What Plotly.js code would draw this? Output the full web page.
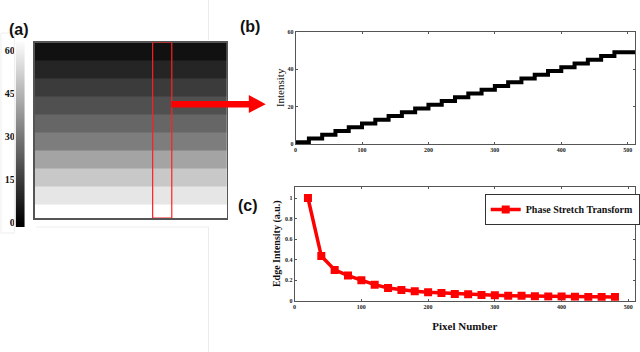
<!DOCTYPE html>
<html>
<head>
<meta charset="utf-8">
<script src="https://cdn.plot.ly/plotly-3.0.1.min.js"></script>
<style>html,body{margin:0;padding:0;background:#fff;}#chart{width:640px;height:352px;}</style>
</head>
<body>
<div id="chart"></div>
<script>
// ---- Panel (a): gray band image ----
const bandEdges = [0, 18, 36, 54, 72, 90, 108, 126, 144, 162, 175];
const bandValues = [4.3, 9.3, 14.8, 20.1, 25.6, 31.4, 41.2, 50.2, 57.7, 64];
const imageColumns = [0, 512];
const roiColumns = [314, 365];
const colorbarLevels = [0, 4, 8, 12, 16, 20, 24, 28, 32, 36, 40, 44, 48, 52, 56, 60, 64];
const colorbarTicks = [0, 15, 30, 45, 60];

// ---- Panel (b): intensity profile ----
const profileX = [0, 20, 40, 60, 80, 100, 120, 140, 160, 180, 200, 220, 240, 260, 280, 300, 320, 340, 360, 380, 400, 420, 440, 460, 480, 512];
const profileY = [1, 3, 5, 7, 9, 11, 13, 15, 17, 19, 21, 23, 25, 27, 29, 31, 33, 35, 37, 39, 41, 43, 45, 47, 49, 49];

// ---- Panel (c): edge intensity ----
const pixelNumber = [20, 40, 60, 80, 100, 120, 140, 160, 180, 200, 220, 240, 260, 280, 300, 320, 340, 360, 380, 400, 420, 440, 460, 480];
const edgeIntensity = [1.0, 0.435, 0.30, 0.245, 0.20, 0.156, 0.123, 0.104, 0.091, 0.082, 0.075, 0.066, 0.062, 0.056, 0.052, 0.049, 0.047, 0.043, 0.042, 0.040, 0.038, 0.037, 0.036, 0.035];

const grayScale = [[0, '#000000'], [1, '#ffffff']];
const serif = '"Liberation Serif", "Times New Roman", Times, serif';
const sans = '"Liberation Sans", Arial, Helvetica, sans-serif';
const tickFont = {family: serif, size: 6, color: '#222', weight: 'bold'};

const traces = [
  {
    type: 'heatmap', x: imageColumns, y: bandEdges,
    z: bandValues.map(v => [v]),
    colorscale: grayScale, zmin: 0, zmax: 64, showscale: false,
    xaxis: 'x', yaxis: 'y', hoverinfo: 'skip', showlegend: false
  },
  {
    type: 'heatmap', x: [0, 1], y: colorbarLevels,
    z: colorbarLevels.map(v => [v, v]), zsmooth: 'best',
    colorscale: grayScale, zmin: 0, zmax: 64, showscale: false,
    xaxis: 'x4', yaxis: 'y4', hoverinfo: 'skip', showlegend: false
  },
  {
    type: 'scatter', mode: 'lines', x: profileX, y: profileY,
    line: {color: '#000000', width: 4, shape: 'hv'},
    xaxis: 'x2', yaxis: 'y2', showlegend: false
  },
  {
    type: 'scatter', mode: 'lines+markers', x: pixelNumber, y: edgeIntensity,
    name: 'Phase Stretch Transform',
    line: {color: '#ff0000', width: 3.5},
    marker: {color: '#ff0000', symbol: 'square', size: 8},
    xaxis: 'x3', yaxis: 'y3', showlegend: true
  }
];

function px(v) { return v / 640; }
function py(v) { return 1 - v / 352; }

const frameAxis = {showline: true, mirror: 'ticks', linecolor: '#555', linewidth: 1,
  ticks: 'inside', ticklen: 2, tickcolor: '#555', zeroline: false, showgrid: false,
  tickfont: tickFont};

const layout = {
  width: 640, height: 352,
  margin: {l: 0, r: 0, t: 0, b: 0},
  paper_bgcolor: '#ffffff', plot_bgcolor: '#ffffff',
  showlegend: true,
  legend: {x: px(487), y: py(194), xanchor: 'left', yanchor: 'top',
    bgcolor: '#ffffff', bordercolor: '#333', borderwidth: 1,
    itemwidth: 30, font: {family: serif, size: 10, color: '#111', weight: 'bold'}},
  // panel (a) image
  xaxis: {domain: [px(35), px(228)], range: imageColumns, showticklabels: false, ticks: '',
    showline: true, mirror: true, linecolor: '#555', linewidth: 1.5, showgrid: false, zeroline: false, fixedrange: true},
  yaxis: {domain: [py(218), py(42.5)], range: [bandEdges[bandEdges.length - 1], bandEdges[0]],
    showticklabels: false, ticks: '', showline: true, mirror: true, linecolor: '#555', linewidth: 1.5,
    showgrid: false, zeroline: false, anchor: 'x'},
  // colorbar strip
  xaxis4: {domain: [px(15.7), px(25)], range: [0, 1], showticklabels: false, ticks: '',
    showgrid: false, zeroline: false, anchor: 'y4'},
  yaxis4: {domain: [py(227), py(42)], range: [-1.5, 63], anchor: 'x4', side: 'left',
    tickvals: colorbarTicks, ticks: '', showgrid: false, zeroline: false,
    tickfont: {family: serif, size: 10, color: '#111', weight: 'bold'}},
  // panel (b)
  xaxis2: Object.assign({}, frameAxis, {domain: [px(297), px(638)], range: [0, 511],
    dtick: 100, anchor: 'y2'}),
  yaxis2: Object.assign({}, frameAxis, {domain: [py(144), py(31.7)], range: [0, 60],
    dtick: 20, anchor: 'x2',
    title: {text: 'Intensity', standoff: 0, font: {family: serif, size: 11, color: '#111'}}}),
  // panel (c)
  xaxis3: Object.assign({}, frameAxis, {domain: [px(296), px(638)], range: [0, 510],
    dtick: 100, anchor: 'y3',
    title: {text: 'Pixel Number', standoff: 13, font: {family: serif, size: 11, color: '#111', weight: 'bold'}}}),
  yaxis3: Object.assign({}, frameAxis, {domain: [py(300.7), py(186.7)], range: [0, 1.11],
    tickvals: [0, 0.2, 0.4, 0.6, 0.8, 1], ticktext: ['0', '0.2', '0.4', '0.6', '0.8', '1'], anchor: 'x3',
    title: {text: 'Edge Intensity (a.u.)', standoff: 2, font: {family: serif, size: 10, color: '#111', weight: 'bold'}}}),
  shapes: [
    // region of interest in image
    {type: 'rect', xref: 'x', yref: 'y', x0: roiColumns[0], x1: roiColumns[1],
      y0: bandEdges[0], y1: bandEdges[bandEdges.length - 1], line: {color: '#ff2020', width: 1.2}},
    // red arrow
    {type: 'rect', xref: 'paper', yref: 'paper', x0: px(172), x1: px(251), y0: py(107.5), y1: py(101),
      fillcolor: '#ff0000', line: {width: 0}},
    {type: 'path', xref: 'paper', yref: 'paper',
      path: 'M ' + px(250) + ' ' + py(95) + ' L ' + px(267) + ' ' + py(104.3) + ' L ' + px(250) + ' ' + py(113) + ' Z',
      fillcolor: '#ff0000', line: {width: 0}},
    // faint page artefacts
    {type: 'line', xref: 'paper', yref: 'paper', x0: px(209.5), x1: px(209.5), y0: py(0), y1: py(40),
      line: {color: '#ececec', width: 1}},
    {type: 'line', xref: 'paper', yref: 'paper', x0: px(209.5), x1: px(209.5), y0: py(227), y1: py(352),
      line: {color: '#ececec', width: 1}},
    {type: 'line', xref: 'paper', yref: 'paper', x0: px(36.5), x1: px(209.5), y0: py(227), y1: py(227),
      line: {color: '#eeeeee', width: 1}},
    {type: 'rect', xref: 'paper', yref: 'paper', x0: px(1), x1: px(14.5), y0: py(233), y1: py(33),
      line: {color: '#eeeeee', width: 1}}
  ],
  annotations: [
    {text: '(a)', xref: 'paper', yref: 'paper', x: px(19), y: py(30), showarrow: false,
      xanchor: 'center', yanchor: 'middle', font: {family: sans, size: 16, color: '#111', weight: 'bold'}},
    {text: '(b)', xref: 'paper', yref: 'paper', x: px(251), y: py(27), showarrow: false,
      xanchor: 'center', yanchor: 'middle', font: {family: sans, size: 16, color: '#111', weight: 'bold'}},
    {text: '(c)', xref: 'paper', yref: 'paper', x: px(249), y: py(205), showarrow: false,
      xanchor: 'center', yanchor: 'middle', font: {family: sans, size: 16, color: '#111', weight: 'bold'}}
  ]
};

Plotly.newPlot('chart', traces, layout, {staticPlot: true, displayModeBar: false});
</script>
</body>
</html>
